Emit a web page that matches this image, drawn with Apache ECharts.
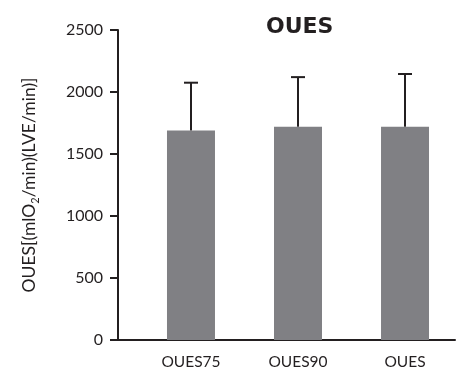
<!DOCTYPE html>
<html><head><meta charset="utf-8">
<script src="https://cdn.jsdelivr.net/npm/echarts@6/dist/echarts.min.js"></script>
<style>html,body{margin:0;padding:0;background:#fff}#c{width:456px;height:370px}</style>
</head><body><div id="c"></div>
<script>
const categories = ['OUES75', 'OUES90', 'OUES'];
const means = [1690, 1720, 1720];
const upper = [2075, 2120, 2145];
const yTicks = [0, 500, 1000, 1500, 2000, 2500];

const ink = '#231f20';
const font = 'Lato';
const pos = categories.map((c, i) => i + 1);

const chart = echarts.init(document.getElementById('c'));
chart.setOption({
  backgroundColor: '#fff',
  animation: false,
  title: {
    text: 'OUES', left: 261, top: 11,
    textStyle: { fontFamily: 'DejaVu Sans', fontWeight: 'bold', fontSize: 22, color: ink }
  },
  grid: { left: 118, right: 1, top: 30, bottom: 29, containLabel: false },
  xAxis: {
    type: 'value', min: 0.318, max: 3.467,
    axisLine: { show: true, onZero: false, lineStyle: { color: ink, width: 2 } },
    axisTick: { show: false },
    splitLine: { show: false },
    axisLabel: {
      customValues: pos, margin: 14,
      formatter: v => categories[Math.round(v) - 1] || '',
      fontFamily: font, fontSize: 15.5, color: ink
    }
  },
  yAxis: {
    type: 'value', min: yTicks[0], max: yTicks[yTicks.length - 1], interval: 500,
    name: '{a|OUES[(mlO}{s|2}{a|/min)(LVE/min)]}',
    nameLocation: 'middle', nameGap: 80, nameRotate: 90,
    nameTextStyle: {
      rich: {
        a: { fontFamily: font, fontSize: 17.5, color: ink, lineHeight: 20, verticalAlign: 'bottom' },
        s: { fontFamily: font, fontSize: 11, color: ink, lineHeight: 20, verticalAlign: 'bottom', padding: [0, 0, -3, 0] }
      }
    },
    axisLine: { show: true, lineStyle: { color: ink, width: 2 } },
    axisTick: { show: true, length: 8, lineStyle: { color: ink, width: 2 } },
    splitLine: { show: false },
    axisLabel: { margin: 15, fontFamily: font, fontSize: 16, color: ink, formatter: v => String(v) }
  },
  series: [
    {
      type: 'bar', barWidth: 48,
      data: pos.map((p, i) => [p, means[i]]),
      itemStyle: { color: '#808084' },
      z: 2
    },
    {
      type: 'custom',
      data: pos.map((p, i) => [p, means[i], upper[i]]),
      renderItem: (params, api) => {
        const x = api.value(0);
        const base = api.coord([x, api.value(1)]);
        const top = api.coord([x, api.value(2)]);
        const hw = 7;
        return {
          type: 'group',
          children: [
            { type: 'line', shape: { x1: top[0], y1: base[1], x2: top[0], y2: top[1] }, style: { stroke: ink, lineWidth: 2 } },
            { type: 'line', shape: { x1: top[0] - hw, y1: top[1], x2: top[0] + hw, y2: top[1] }, style: { stroke: ink, lineWidth: 2 } }
          ]
        };
      },
      z: 3
    }
  ]
});
</script>
</body></html>
